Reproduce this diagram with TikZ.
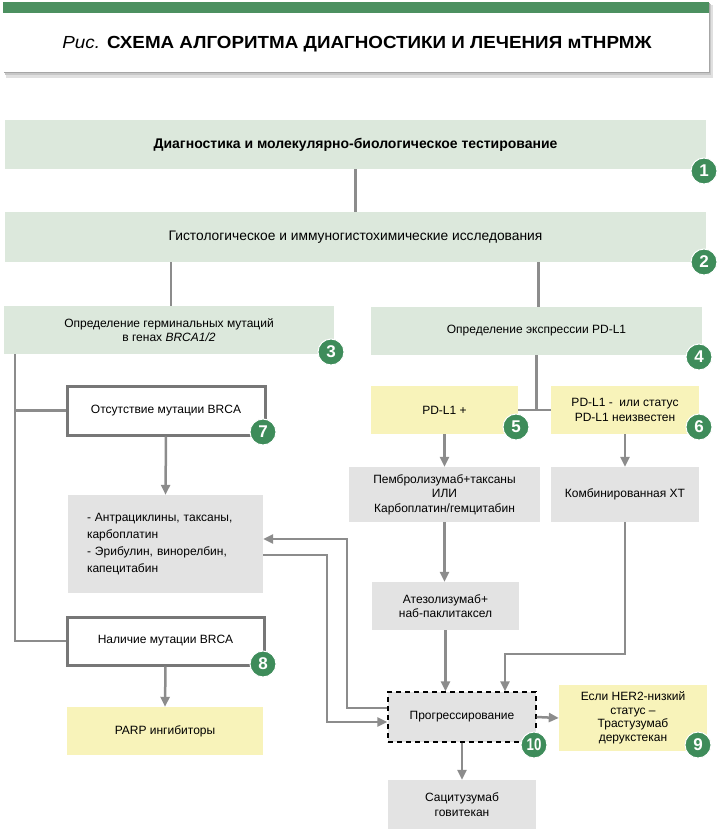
\documentclass[tikz,border=0pt]{standalone}
\usepackage{fontspec}
\setmainfont{Liberation Sans}
\usetikzlibrary{arrows.meta}
\definecolor{mint}{HTML}{DCE8DC}
\definecolor{lemon}{HTML}{F8F3BA}
\definecolor{lgray}{HTML}{E3E3E3}
\definecolor{conn}{HTML}{8C8C8C}
\definecolor{bord}{HTML}{777777}
\definecolor{badgegreen}{HTML}{3E8C5A}
\definecolor{barGreen}{HTML}{4C9060}
\tikzset{
  base/.style={inner sep=0pt, align=center, font=\fontsize{12}{14.5}\selectfont},
  gbox/.style={base, fill=mint},
  ybox/.style={base, fill=lemon},
  cbox/.style={base, fill=lgray},
  wbox/.style={base, fill=white, draw=bord, line width=3pt},
  dbox/.style={base, fill=lgray, draw=black, line width=1.2pt, dash pattern=on 5pt off 4pt},
  badge/.style={circle, fill=badgegreen, draw=white, line width=1pt, minimum size=26pt, inner sep=0pt, text=white, font=\bfseries\fontsize{17}{17}\selectfont},
  ln/.style={draw=conn, line width=2.5pt},
  arr/.style={ln, -{Triangle[length=10pt,width=9pt]}},
}
\begin{document}
\begin{tikzpicture}[x=1pt,y=-1pt]
\useasboundingbox (0,0) rectangle (720,837);
% header
\fill[black!12] (6,5) rectangle (713,78);
\fill[black!22] (5,4) rectangle (711,75);
\fill[black!35] (4,3) rectangle (710,73.5);
\fill[white] (3,2) rectangle (709,72);
\fill[barGreen] (3,2) rectangle (709,13);
\node[inner sep=0pt, font=\fontsize{17.5}{17.5}\selectfont] (title) at (357,44) {\scalebox{1.075}[1]{\textit{Рис.} \textbf{СХЕМА АЛГОРИТМА ДИАГНОСТИКИ И ЛЕЧЕНИЯ мТНРМЖ}}};
% boxes
\node[gbox, minimum width=701pt, minimum height=49pt, font=\bfseries\fontsize{14}{14}\selectfont] (b1) at (355.5,144.5) {Диагностика и молекулярно-биологическое тестирование};
\node[gbox, minimum width=701pt, minimum height=50pt, font=\fontsize{13.8}{14}\selectfont] (b2) at (355.5,237) {Гистологическое и иммуногистохимические исследования};
\node[gbox, minimum width=330pt, minimum height=48pt] (b3) at (169,330) {Определение герминальных мутаций\\в генах \textit{BRCA1/2}};
\node[gbox, minimum width=331pt, minimum height=48pt] (b4) at (536.5,331) {Определение экспрессии PD-L1};
\node[ybox, minimum width=147pt, minimum height=48pt] (b5) at (444.5,410) {PD-L1 +};
\node[ybox, minimum width=148pt, minimum height=48pt] (b6) at (625,410) {PD-L1 -\ \ или статус\\PD-L1 неизвестен};
\node[wbox, minimum width=198pt, minimum height=49pt] (b7) at (166,410.5) {Отсутствие мутации BRCA};
\node[cbox, minimum width=195pt, minimum height=98pt, text width=157pt, inner xsep=19pt, align=left, font=\fontsize{12}{17}\selectfont] (chemo) at (165.5,544) {- Антрациклины, таксаны,\\карбоплатин\\- Эрибулин, винорелбин,\\капецитабин};
\node[cbox, minimum width=191pt, minimum height=55pt] (pembro) at (444.5,494.5) {Пембролизумаб+таксаны\\ИЛИ\\Карбоплатин/гемцитабин};
\node[cbox, minimum width=148pt, minimum height=55pt] (comb) at (625,494.5) {Комбинированная ХТ};
\node[cbox, minimum width=147pt, minimum height=48pt] (atezo) at (445.5,606) {Атезолизумаб+\\наб-паклитаксел};
\node[wbox, minimum width=197pt, minimum height=48pt] (b8) at (165.5,641) {Наличие мутации BRCA};
\node[ybox, minimum width=196pt, minimum height=48pt] (parp) at (165,731) {PARP ингибиторы};
\node[dbox, minimum width=148pt, minimum height=50pt] (prog) at (462,717) {Прогрессирование};
\node[ybox, minimum width=148pt, minimum height=66pt, font=\fontsize{12}{13.5}\selectfont] (b9) at (633,718) {Если HER2-низкий\\статус –\\Трастузумаб\\дерукстекан};
\node[cbox, minimum width=148pt, minimum height=49pt] (saci) at (462,804.5) {Сацитузумаб\\говитекан};
% connectors
\draw[ln] (b1.south) -- (b2.north);
\draw[ln] (b3.north) ++(2,0) coordinate (t3) -- (t3 |- b2.south);
\draw[ln] (b4.north) ++(2,0) coordinate (t4) -- (t4 |- b2.south);
\draw[ln] (b4.south) -- (b4.south |- b5.east);
\draw[ln] (b5.east) -- (b6.west);
\draw[arr] (b5.south) -- (pembro.north);
\draw[arr] (b6.south) -- (comb.north);
\draw[arr] (pembro.south) -- (pembro.south |- atezo.north);
\draw[arr] (atezo.south) -- (atezo.south |- prog.north);
\coordinate (c1) at (505,654);
\draw[arr] (comb.south) |- (c1) -- (c1 |- prog.north);
\draw[arr] (prog.east) -- (b9.west);
\draw[arr] (prog.south) -- (saci.north);
\draw[ln] (b3.south west) ++(11,0) coordinate (lt) |- (b8.west);
\draw[ln] (lt |- b7.west) -- (b7.west);
\draw[arr] (b7.south) -- (chemo.north);
\draw[arr] (b8.south) -- (parp.north);
\coordinate (p1) at (347,708);
\coordinate (p2) at (347,539);
\draw[arr] (prog.west |- p1) -- (p1) -- (p2) -- (p2 -| chemo.east);
\coordinate (q1) at (327,555);
\coordinate (q2) at (327,722);
\draw[arr] (q1 -| chemo.east) -- (q1) -- (q2) -- (q2 -| prog.west);
% badges
\node[badge] (n1) at (704,171) {1};
\node[badge] (n2) at (704,262) {2};
\node[badge] (n3) at (331,352) {3};
\node[badge] (n4) at (699,357) {4};
\node[badge] (n5) at (516,427) {5};
\node[badge] (n6) at (699,427) {6};
\node[badge] (n7) at (263,432) {7};
\node[badge] (n8) at (263,664) {8};
\node[badge] (n10) at (534,745) {\scalebox{0.78}[1]{10}};
\node[badge] (n9) at (698,745) {9};
\end{tikzpicture}
\end{document}
